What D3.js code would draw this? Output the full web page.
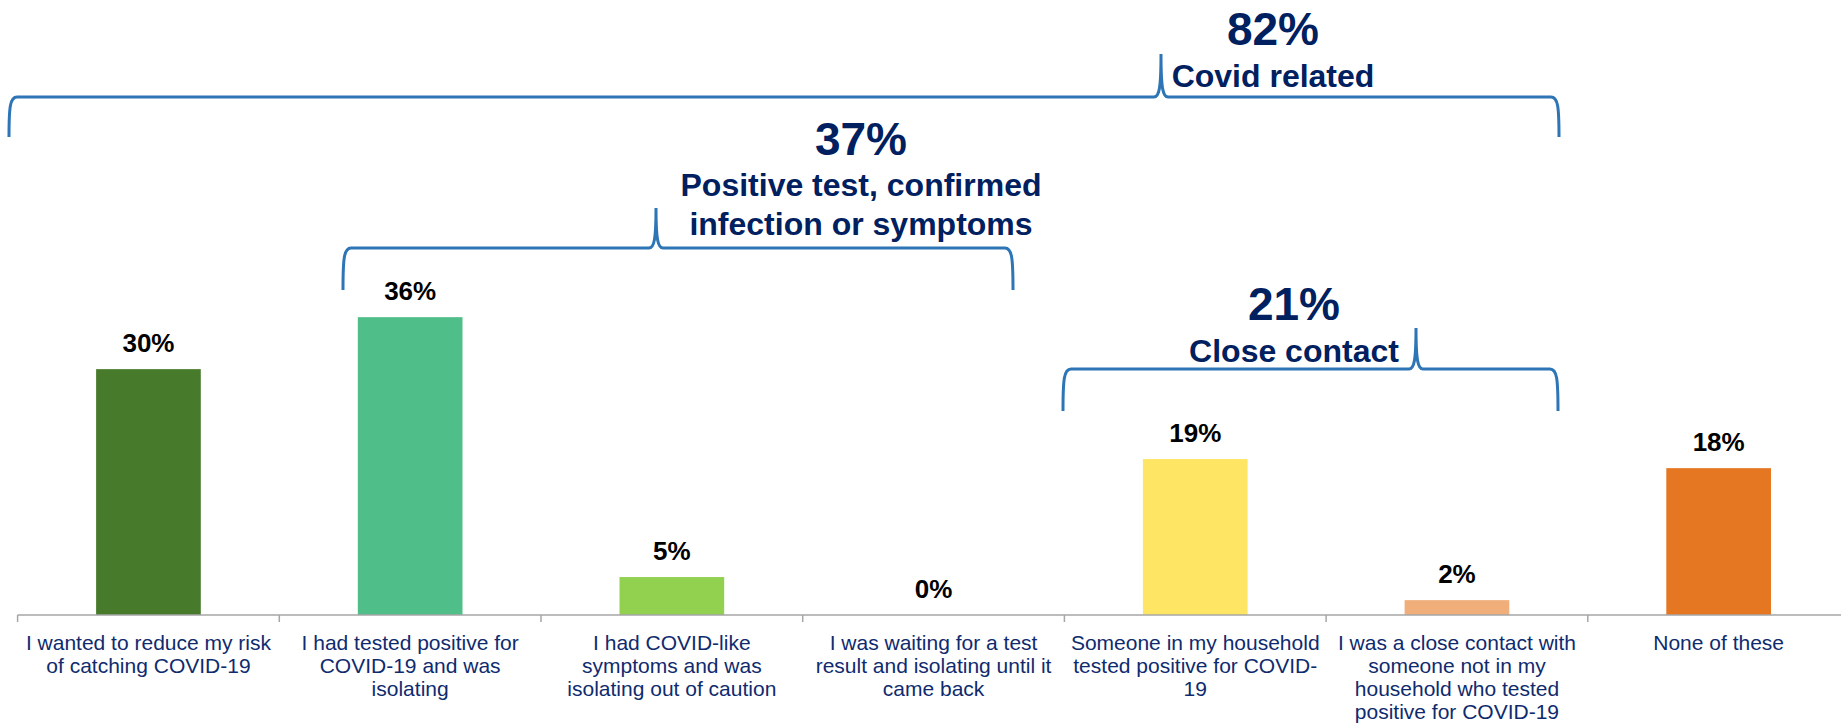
<!DOCTYPE html>
<html>
<head>
<meta charset="utf-8">
<script src="https://cdn.jsdelivr.net/npm/d3@7"></script>
<style>
  html, body { margin: 0; padding: 0; background: #ffffff; }
  svg { display: block; }
  text { font-family: "Liberation Sans", Arial, sans-serif; }
</style>
</head>
<body>
<svg id="chart" width="1841" height="723"></svg>
<script>
// ---- data ----
const categories = [
  "I wanted to reduce my risk\nof catching COVID-19",
  "I had tested positive for\nCOVID-19 and was\nisolating",
  "I had COVID-like\nsymptoms and was\nisolating out of caution",
  "I was waiting for a test\nresult and isolating until it\ncame back",
  "Someone in my household\ntested positive for COVID-\n19",
  "I was a close contact with\nsomeone not in my\nhousehold who tested\npositive for COVID-19",
  "None of these"
];
const values = [29.8, 36.1, 4.6, 0, 18.9, 1.8, 17.8];
const barColors = ["#477A2B", "#4FBE89", "#92D050", "#92D050", "#FFE563", "#F0AE7A", "#E67722"];

const groupPercents = ["82%", "37%", "21%"];
const groupLabels = [["Covid related"], ["Positive test, confirmed", "infection or symptoms"], ["Close contact"]];

// ---- layout ----
const W = 1841, H = 723;
const axisY = 615;
const plotLeft = 17.6, bandW = 261.7;
const svg = d3.select("#chart");

const x = d3.scaleBand()
  .domain(d3.range(categories.length))
  .range([plotLeft, plotLeft + bandW * categories.length])
  .paddingInner(0.6)
  .paddingOuter(0.3);

const y = d3.scaleLinear().domain([0, 40]).range([axisY, axisY - 330]);

// bars
svg.append("g").selectAll("rect").data(values).join("rect")
  .attr("x", (d, i) => x(i))
  .attr("width", x.bandwidth())
  .attr("y", d => y(d))
  .attr("height", d => y(0) - y(d))
  .attr("fill", (d, i) => barColors[i]);

// data labels
svg.append("g").selectAll("text").data(values).join("text")
  .attr("x", (d, i) => x(i) + x.bandwidth() / 2)
  .attr("y", d => y(d) - 17)
  .attr("text-anchor", "middle")
  .attr("font-size", 26)
  .attr("font-weight", "bold")
  .attr("fill", "#000000")
  .text(d => d3.format(".0f")(d) + "%");

// axis line and boundary ticks
const axisG = svg.append("g");
const boundaries = d3.range(categories.length + 1).map(i => plotLeft + i * x.step());
axisG.append("line")
  .attr("x1", plotLeft).attr("x2", W)
  .attr("y1", axisY).attr("y2", axisY)
  .attr("stroke", "#A6A6A6").attr("stroke-width", 1.5);
axisG.selectAll(".tk").data(boundaries).join("line")
  .attr("class", "tk")
  .attr("x1", d => d).attr("x2", d => d)
  .attr("y1", axisY).attr("y2", axisY + 7)
  .attr("stroke", "#A6A6A6").attr("stroke-width", 1.5);

// category labels
const catG = svg.append("g");
categories.forEach((c, i) => {
  const t = catG.append("text")
    .attr("x", x(i) + x.bandwidth() / 2)
    .attr("y", 650)
    .attr("text-anchor", "middle")
    .attr("font-size", 21)
    .attr("fill", "#0F2B6E");
  c.split("\n").forEach((line, k) => {
    t.append("tspan").attr("x", x(i) + x.bandwidth() / 2).attr("y", 650 + k * 23).text(line);
  });
});

// brackets (annotation layout)
const brackets = [
  { x0: 9, x1: 1559, yT: 97, yB: 137, tx: 1161, tipY: 54, cx: 1273, pctY: 45, lblY: 87 },
  { x0: 343, x1: 1013, yT: 248, yB: 290, tx: 656, tipY: 208, cx: 861, pctY: 155, lblY: 196 },
  { x0: 1063, x1: 1558, yT: 369, yB: 411, tx: 1416, tipY: 328, cx: 1294, pctY: 320, lblY: 362 }
];
function bracePath(b) {
  const r = 8;
  return `M${b.x0},${b.yB} C${b.x0},${b.yT + 10} ${b.x0 + 1},${b.yT} ${b.x0 + r},${b.yT}` +
    ` L${b.tx - 7},${b.yT} C${b.tx - 2},${b.yT} ${b.tx},${b.yT - 8} ${b.tx},${b.tipY}` +
    ` C${b.tx},${b.yT - 8} ${b.tx + 2},${b.yT} ${b.tx + 7},${b.yT}` +
    ` L${b.x1 - r},${b.yT} C${b.x1 - 1},${b.yT} ${b.x1},${b.yT + 10} ${b.x1},${b.yB}`;
}
const annG = svg.append("g");
brackets.forEach((b, i) => {
  annG.append("path")
    .attr("d", bracePath(b))
    .attr("fill", "none")
    .attr("stroke", "#2E75B6")
    .attr("stroke-width", 3);
  annG.append("text")
    .attr("x", b.cx).attr("y", b.pctY)
    .attr("text-anchor", "middle")
    .attr("font-size", 46).attr("font-weight", "bold")
    .attr("fill", "#002060")
    .text(groupPercents[i]);
  groupLabels[i].forEach((line, k) => {
    annG.append("text")
      .attr("x", b.cx).attr("y", b.lblY + k * 39)
      .attr("text-anchor", "middle")
      .attr("font-size", 32).attr("font-weight", "bold")
      .attr("fill", "#002060")
      .text(line);
  });
});
</script>
</body>
</html>
